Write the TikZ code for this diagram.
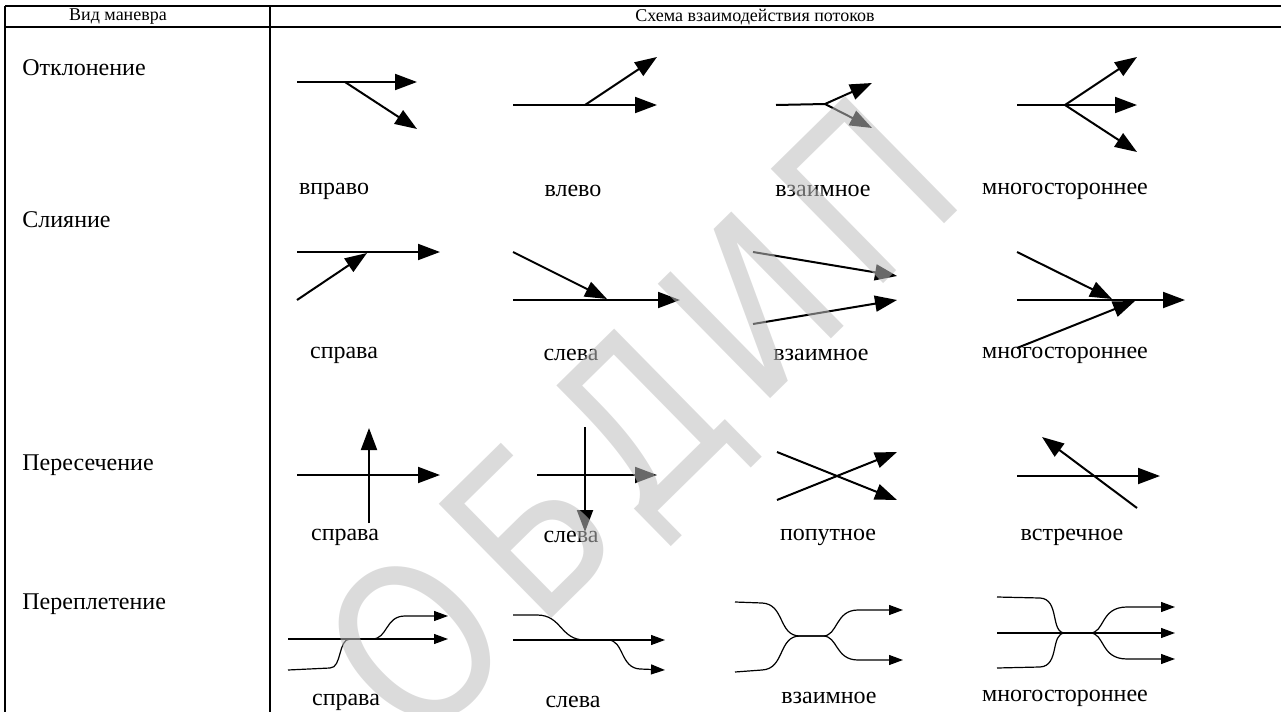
\documentclass[tikz,border=0pt]{standalone}
\usepackage{fontspec}
\setmainfont{Liberation Serif}
\newfontfamily\wzfont{DejaVu Sans}
\usetikzlibrary{arrows.meta}

\definecolor{wzgrau}{RGB}{190,190,190}

\begin{document}
\begin{tikzpicture}[x=0.5pt,y=-0.5pt,
		pfeil/.style={line width=1pt,-{Triangle[length=11pt,width=8pt]}},
		linie/.style={line width=1pt},
		welle/.style={line width=0.6pt,-{Triangle[length=7pt,width=5pt]}},
		gitter/.style={line width=1pt},
		txt/.style={font=\fontsize{12}{14}\selectfont,inner sep=0pt},
		kopf/.style={font=\fontsize{9}{11}\selectfont,inner sep=0pt},
		wz/.style={rotate=44.5,xscale=0.85,anchor=base,inner sep=0pt,text=wzgrau,text opacity=0.55,font=\wzfont\fontsize{110}{110}\selectfont}]
	\useasboundingbox (0,0) rectangle (1281,712);

	% Tabelle zeichnen
	\draw[gitter] (5,6) -- (1281,6); % obere Linie
	\draw[gitter] (5,27) -- (1281,27); % Kopfzeile
	\draw[gitter] (5,6) -- (5,712); % linker Rand
	\draw[gitter] (270,6) -- (270,712); % Spaltentrennung

	% Kopf
	\node[kopf] (vid) at (118,17) {Вид маневра};
	\node[kopf] (schema) at (755,17) {Схема взаимодействия потоков};

	% Zeilen
	\node[txt,anchor=west] (otkl) at (22,68) {Отклонение};
	\node[txt,anchor=west] (slij) at (22,220) {Слияние};
	\node[txt,anchor=west] (pers) at (22,465) {Пересечение};
	\node[txt,anchor=west] (perp) at (22,604) {Переплетение};

	% Отклонение
	\draw[pfeil] (297,82) -- (417,82);
	\draw[pfeil] (345,82) -- (417,129);
	\node[txt] (otkl1) at (334,191) {вправо};
	\draw[pfeil] (513,105) -- (657,105);
	\draw[pfeil] (585,105) -- (657,57);
	\node[txt] (otkl2) at (573,191) {влево};
	\draw[linie] (776,105) -- (825,104);
	\draw[pfeil] (825,104) -- (872,83);
	\draw[pfeil] (825,104) -- (872,128);
	\node[txt] (otkl3) at (823,191) {взаимное};
	\draw[linie] (1017,105) -- (1065,105);
	\draw[pfeil] (1065,105) -- (1137,57);
	\draw[pfeil] (1065,105) -- (1137,105);
	\draw[pfeil] (1065,105) -- (1137,152);
	\node[txt] (otkl4) at (1065,191) {многостороннее};

	% Слияние
	\draw[pfeil] (297,252) -- (440,252);
	\draw[pfeil] (297,300) -- (367,253);
	\node[txt] (slij1) at (344,355) {справа};
	\draw[pfeil] (513,252) -- (607,299);
	\draw[pfeil] (513,300) -- (680,300);
	\node[txt] (slij2) at (571,355) {слева};
	\draw[pfeil] (753,252) -- (897,276);
	\draw[pfeil] (753,324) -- (897,300);
	\node[txt] (slij3) at (821,355) {взаимное};
	\draw[pfeil] (1017,252) -- (1112,299);
	\draw[pfeil] (1017,300) -- (1185,300);
	\draw[pfeil] (1017,348) -- (1135,301);
	\node[txt] (slij4) at (1065,355) {многостороннее};

	% Пересечение
	\draw[pfeil] (297,475) -- (440,475);
	\draw[pfeil] (369,523) -- (369,428);
	\node[txt] (pers1) at (345,537) {справа};
	\draw[pfeil] (537,475) -- (657,475);
	\draw[pfeil] (585,427) -- (585,532);
	\node[txt] (pers2) at (571,537) {слева};
	\draw[pfeil] (777,452) -- (897,500);
	\draw[pfeil] (777,500) -- (897,452);
	\node[txt] (pers3) at (828,537) {попутное};
	\draw[pfeil] (1017,476) -- (1160,476);
	\draw[pfeil] (1137,508) -- (1042,437);
	\node[txt] (pers4) at (1072,537) {встречное};

	% Переплетение
	\draw[welle] (288,639) -- (448,639);
	\draw[welle] (288,670) -- (330,668) .. controls (342,668) and (338,639) .. (350,639) -- (372,639) .. controls (388,639) and (385,616) .. (405,616) -- (448,616);
	\node[txt] (perp1) at (346,702) {справа};
	\draw[welle] (513,640) -- (665,640);
	\draw[welle] (513,615) -- (537,615) .. controls (562,615) and (560,640) .. (585,640) -- (608,640) .. controls (624,640) and (620,668) .. (640,669) -- (665,670);
	\node[txt] (perp2) at (573,702) {слева};
	\draw[welle] (735,602) -- (762,603) .. controls (785,604) and (778,636) .. (800,636) -- (823,636) .. controls (838,636) and (835,610) .. (858,610) -- (903,610);
	\draw[welle] (735,672) -- (762,670) .. controls (785,669) and (778,636) .. (800,636) -- (823,636) .. controls (838,636) and (835,660) .. (858,660) -- (903,660);
	\node[txt] (perp3) at (829,698) {взаимное};
	\draw[welle] (997,633) -- (1175,633);
	\draw[welle] (997,597) -- (1040,598) .. controls (1060,599) and (1050,633) .. (1065,633) -- (1090,633) .. controls (1105,633) and (1100,607) .. (1127,607) -- (1175,607);
	\draw[welle] (997,668) -- (1040,667) .. controls (1060,666) and (1050,633) .. (1065,633) -- (1090,633) .. controls (1105,633) and (1100,659) .. (1127,659) -- (1175,659);
	\node[txt] (perp4) at (1065,698) {многостороннее};

	% Wasserzeichen
	\node[wz] (wz1) at (471,700) {О};
	\node[wz] (wz2) at (584,587) {Б};
	\node[wz] (wz3) at (693,477) {Д};
	\node[wz] (wz4) at (807,362) {И};
	\node[wz] (wz5) at (921,247) {П};
\end{tikzpicture}
\end{document}
